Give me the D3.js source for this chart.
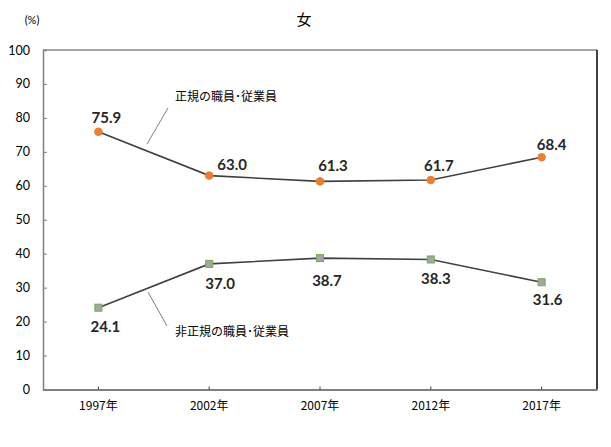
<!DOCTYPE html>
<html>
<head>
<meta charset="utf-8">
<script src="https://cdn.jsdelivr.net/npm/d3@7"></script>
<style>
  body { margin: 0; background: #fff; }
  text { font-family: "Noto Sans CJK JP", "Noto Sans", sans-serif; fill: #000; }
  .val { font-family: Lato, "Noto Sans", sans-serif; font-weight: bold; font-size: 15px; fill: #262626; }
</style>
</head>
<body>
<div id="viz"></div>
<script>
// data
var years = ["1997年", "2002年", "2007年", "2012年", "2017年"];
var regular = [75.9, 63.0, 61.3, 61.7, 68.4];
var nonRegular = [24.1, 37.0, 38.7, 38.3, 31.6];
var yTicks = [0, 10, 20, 30, 40, 50, 60, 70, 80, 90, 100];
// label offsets (dx, dy) from point
var regOff = [[8, -14], [23, -11], [13, -16], [8, -14], [10, -13]];
var nonOff = [[7, 19], [11, 20], [7, 23], [5, 19], [6, 18]];

var W = 611, H = 447;
var m = { left: 43, right: 14, top: 50, bottom: 57 };

var svg = d3.select("#viz").append("svg")
    .attr("width", W).attr("height", H);

var x = d3.scaleBand().domain(years).range([m.left, W - m.right]);
var y = d3.scaleLinear().domain([0, 100]).range([H - m.bottom - 0.5, m.top]);
var cx = function (i) { return x(years[i]) + x.bandwidth() / 2; };

// frame
svg.append("line").attr("x1", m.left).attr("x2", W - m.right)
    .attr("y1", y(100)).attr("y2", y(100))
    .style("stroke", "#a6a6a6").style("stroke-width", 2);
svg.append("line").attr("x1", W - m.right).attr("x2", W - m.right)
    .attr("y1", y(100)).attr("y2", y(0))
    .style("stroke", "#000").style("stroke-width", 1.5);

// y axis
var yAxis = svg.append("g").attr("transform", "translate(" + m.left + ",0)")
    .call(d3.axisLeft(y).tickValues(yTicks).tickSize(-4).tickPadding(13));
yAxis.select(".domain").style("stroke", "#7f7f7f").style("stroke-width", 1.5);
yAxis.selectAll(".tick line").style("stroke", "#7f7f7f");
yAxis.selectAll("text").style("font-family", "Lato, 'Noto Sans', sans-serif")
    .style("font-size", "12.5px").style("fill", "#000");

// x axis
var xAxis = svg.append("g").attr("transform", "translate(0," + y(0) + ")")
    .call(d3.axisBottom(x).tickSize(-3).tickSizeOuter(0).tickPadding(12));
xAxis.select(".domain").style("stroke", "#7f7f7f").style("stroke-width", 2);
xAxis.selectAll(".tick line").style("stroke", "#404040");
xAxis.selectAll("text").style("font-size", "12px").style("fill", "#000");

// titles
svg.append("text").attr("x", 304).attr("y", 25).attr("text-anchor", "middle")
    .style("font-size", "15px").text("女");
svg.append("text").attr("x", 32).attr("y", 24).attr("text-anchor", "middle")
    .style("font-size", "11px").style("font-family", "Lato, 'Noto Sans', sans-serif").text("(%)");

var line = d3.line().x(function (d, i) { return cx(i); }).y(function (d) { return y(d); });

svg.append("path").datum(regular).attr("d", line)
    .style("fill", "none").style("stroke", "#404040").style("stroke-width", 1.6);
svg.append("path").datum(nonRegular).attr("d", line)
    .style("fill", "none").style("stroke", "#404040").style("stroke-width", 1.6);

svg.selectAll(".dot").data(regular).enter().append("circle")
    .attr("cx", function (d, i) { return cx(i); })
    .attr("cy", function (d) { return y(d); })
    .attr("r", 3.8)
    .style("fill", "#ed7d31").style("stroke", "#ed7d31");

svg.selectAll(".sq").data(nonRegular).enter().append("rect")
    .attr("x", function (d, i) { return cx(i) - 3.5; })
    .attr("y", function (d) { return y(d) - 3.5; })
    .attr("width", 7).attr("height", 7)
    .style("fill", "#a5a5a5").style("stroke", "#70ad47").style("stroke-width", 1);

// value labels
svg.selectAll(".rl").data(regular).enter().append("text").attr("class", "val")
    .attr("x", function (d, i) { return cx(i) + regOff[i][0]; })
    .attr("y", function (d, i) { return y(d) + regOff[i][1]; })
    .attr("text-anchor", "middle").attr("dy", "0.35em")
    .text(function (d) { return d.toFixed(1); });
svg.selectAll(".nl").data(nonRegular).enter().append("text").attr("class", "val")
    .attr("x", function (d, i) { return cx(i) + nonOff[i][0]; })
    .attr("y", function (d, i) { return y(d) + nonOff[i][1]; })
    .attr("text-anchor", "middle").attr("dy", "0.35em")
    .text(function (d) { return d.toFixed(1); });

// series names with leader lines
svg.append("text").attr("x", 175).attr("y", 97).attr("dy", "0.35em")
    .style("font-size", "12px").text("正規の職員･従業員");
svg.append("line").attr("x1", 168).attr("y1", 108).attr("x2", 147).attr("y2", 144)
    .style("stroke", "#7f7f7f").style("stroke-width", 1);
svg.append("text").attr("x", 175).attr("y", 332).attr("dy", "0.35em")
    .style("font-size", "12px").text("非正規の職員･従業員");
svg.append("line").attr("x1", 148).attr("y1", 292).attr("x2", 167).attr("y2", 326)
    .style("stroke", "#7f7f7f").style("stroke-width", 1);
</script>
</body>
</html>
